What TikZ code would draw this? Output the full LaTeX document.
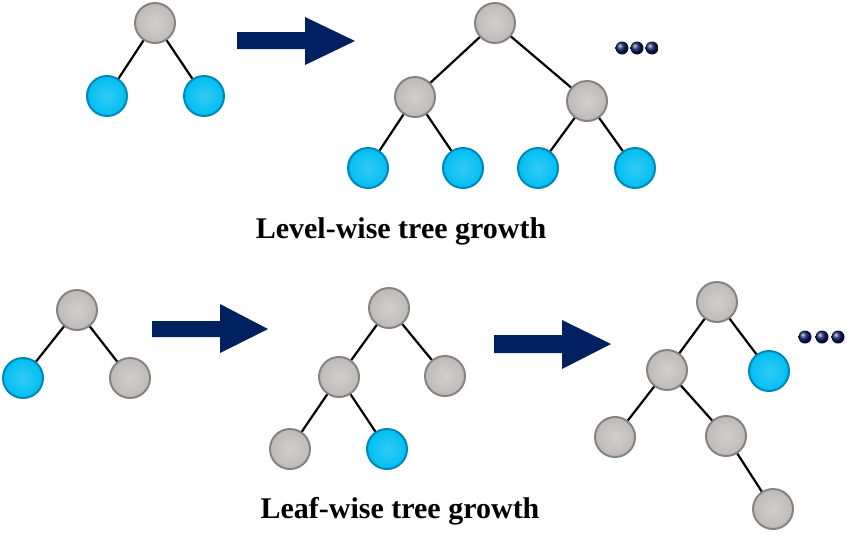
\documentclass[tikz,border=0pt]{standalone}
\usepackage{fontspec}
\setmainfont{Liberation Serif}
\usepackage{tikz}

\definecolor{nodegray}{RGB}{190,186,186}
\definecolor{nodegrayd}{RGB}{135,131,131}
\definecolor{nodeblue}{RGB}{0,190,242}
\definecolor{nodeblued}{RGB}{0,135,185}
\definecolor{arrownavy}{RGB}{0,32,96}
\definecolor{dotnavy}{RGB}{10,30,100}

\tikzset{
  gnode/.style={circle, minimum size=40pt, inner sep=0pt, draw=nodegrayd, line width=2pt,
    inner color=nodegray!70!white, outer color=nodegray},
  bnode/.style={circle, minimum size=40pt, inner sep=0pt, draw=nodeblued, line width=2pt,
    inner color=nodeblue!80!white, outer color=nodeblue},
  edge/.style={line width=2.2pt, black},
  caption/.style={anchor=base, font=\fontsize{30}{36}\selectfont\bfseries}
}

\begin{document}
\begin{tikzpicture}[x=1pt,y=1pt,yscale=-1]
\useasboundingbox (0,0) rectangle (850,536);

% level-wise, before
\node [gnode] (a0) at (155,23) {};
\node [bnode] (a1) at (107,96) {};
\node [bnode] (a2) at (204,96) {};
\draw [edge] (a0) -- (a1);
\draw [edge] (a0) -- (a2);

\fill [arrownavy] (237,32) -- (305,32) -- (305,17) -- (355,41) -- (305,65) -- (305,49) -- (237,49) -- cycle;

% level-wise, after
\node [gnode] (b0) at (495,23) {};
\node [gnode] (b1) at (415,97) {};
\node [gnode] (b2) at (587,101) {};
\node [bnode] (b3) at (368,168) {};
\node [bnode] (b4) at (463,168) {};
\node [bnode] (b5) at (538,168) {};
\node [bnode] (b6) at (635,168) {};
\draw [edge] (b0) -- (b1);
\draw [edge] (b0) -- (b2);
\draw [edge] (b1) -- (b3);
\draw [edge] (b1) -- (b4);
\draw [edge] (b2) -- (b5);
\draw [edge] (b2) -- (b6);

\foreach \x in {622,637,652}
  \shade [ball color=dotnavy] (\x,48) circle [radius=6.5];

\node [caption] (levelcap) at (401,238) {Level-wise tree growth};

% leaf-wise, step 1
\node [gnode] (c0) at (77,310) {};
\node [bnode] (c1) at (23,378) {};
\node [gnode] (c2) at (130,378) {};
\draw [edge] (c0) -- (c1);
\draw [edge] (c0) -- (c2);

\fill [arrownavy] (152,321) -- (220,321) -- (220,304) -- (268,329) -- (220,353) -- (220,337) -- (152,337) -- cycle;

% leaf-wise, step 2
\node [gnode] (d0) at (389,308) {};
\node [gnode] (d1) at (339,377) {};
\node [gnode] (d2) at (445,376) {};
\node [gnode] (d3) at (290,449) {};
\node [bnode] (d4) at (387,449) {};
\draw [edge] (d0) -- (d1);
\draw [edge] (d0) -- (d2);
\draw [edge] (d1) -- (d3);
\draw [edge] (d1) -- (d4);

\fill [arrownavy] (494,335) -- (562,335) -- (562,320) -- (611,344) -- (562,369) -- (562,353) -- (494,353) -- cycle;

% leaf-wise, step 3
\node [gnode] (e0) at (717,302) {};
\node [gnode] (e1) at (667,370) {};
\node [bnode] (e2) at (769,371) {};
\node [gnode] (e3) at (615,437) {};
\node [gnode] (e4) at (726,436) {};
\node [gnode] (e5) at (773,509) {};
\draw [edge] (e0) -- (e1);
\draw [edge] (e0) -- (e2);
\draw [edge] (e1) -- (e3);
\draw [edge] (e1) -- (e4);
\draw [edge] (e4) -- (e5);

\foreach \x in {805,822,838}
  \shade [ball color=dotnavy] (\x,337) circle [radius=6.5];

\node [caption] (leafcap) at (400,518) {Leaf-wise tree growth};

\end{tikzpicture}
\end{document}
